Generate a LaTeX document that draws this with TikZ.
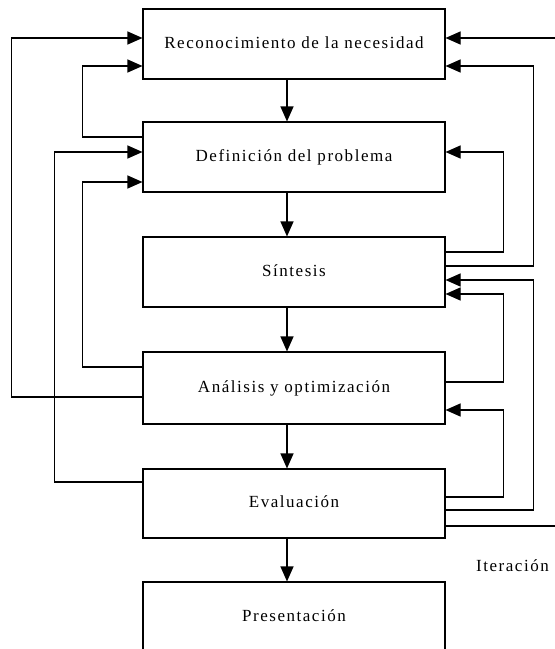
\documentclass[tikz,border=0pt]{standalone}
\usepackage{fontspec}
\setmainfont{Liberation Serif}[LetterSpace=9]
\usetikzlibrary{arrows.meta}
\begin{document}
\begin{tikzpicture}[x=1pt,y=-1pt,
  box/.style={draw,line width=1.1pt,minimum width=302pt,inner sep=0pt,font=\fontsize{17}{20}\selectfont},
  arr/.style={line width=1.1pt,-{Triangle[length=15pt,width=13pt]}},
  ln/.style={line width=1.1pt}]
\clip (0,0) rectangle (555,649);
\fill[white] (0,0) rectangle (555,649);
\node[box,minimum height=70pt] (b1) at (294,44) {\raisebox{3pt}{Reconocimiento de la necesidad}};
\node[box,minimum height=70pt] (b2) at (294,157) {\raisebox{2pt}{Definición del problema}};
\node[box,minimum height=70pt] (b3) at (294,272) {\raisebox{2pt}{Síntesis}};
\node[box,minimum height=72pt] (b4) at (294,388) {\raisebox{2pt}{Análisis y optimización}};
\node[box,minimum height=69pt] (b5) at (294,503.5) {\raisebox{3pt}{Evaluación}};
\node[box,minimum height=70pt] (b6) at (294,617) {\raisebox{2pt}{Presentación}};
\node[font=\fontsize{17}{20}\selectfont,anchor=west,inner sep=0pt] (it) at (476,566) {Iteración};
\coordinate (eTop) at (560,38);
\coordinate (eBot) at (560,526);
% vertical flow
\draw[arr] ([xshift=-7pt]b1.south) -- ([xshift=-7pt]b2.north);
\draw[arr] ([xshift=-7pt]b2.south) -- ([xshift=-7pt]b3.north);
\draw[arr] ([xshift=-7pt]b3.south) -- ([xshift=-7pt]b4.north);
\draw[arr] ([xshift=-7pt]b4.south) -- ([xshift=-7pt]b5.north);
\draw[arr] ([xshift=-7pt]b5.south) -- ([xshift=-7pt]b6.north);
% left feedback
\draw[arr] ([yshift=-9pt]b4.west) -- ++(-131,0) |- ([yshift=6pt]b1.west);
\draw[arr] ([yshift=20pt]b2.west) -- ++(-60,0) |- ([yshift=-22pt]b1.west);
\draw[arr] ([yshift=21.5pt]b5.west) -- ++(-88,0) |- ([yshift=5pt]b2.west);
\draw[arr] ([yshift=21pt]b4.west) -- ++(-60,0) |- ([yshift=-25pt]b2.west);
% right feedback
\draw[arr] (eTop) -- ([yshift=6pt]b1.east);
\draw[arr] ([yshift=6pt]b3.east) -- ++(88,0) |- ([yshift=-22pt]b1.east);
\draw[arr] ([yshift=20pt]b3.east) -- ++(58,0) |- ([yshift=5pt]b2.east);
\draw[arr] ([yshift=-6.5pt]b5.east) -- ++(88,0) |- ([yshift=-8pt]b3.east);
\draw[arr] ([yshift=6pt]b4.east) -- ++(58,0) |- ([yshift=-22pt]b3.east);
\draw[arr] ([yshift=6.5pt]b5.east) -- ++(58,0) |- ([yshift=-22pt]b4.east);
\draw[ln] ([yshift=-22.5pt]b5.east) -- (eBot);
\end{tikzpicture}
\end{document}
